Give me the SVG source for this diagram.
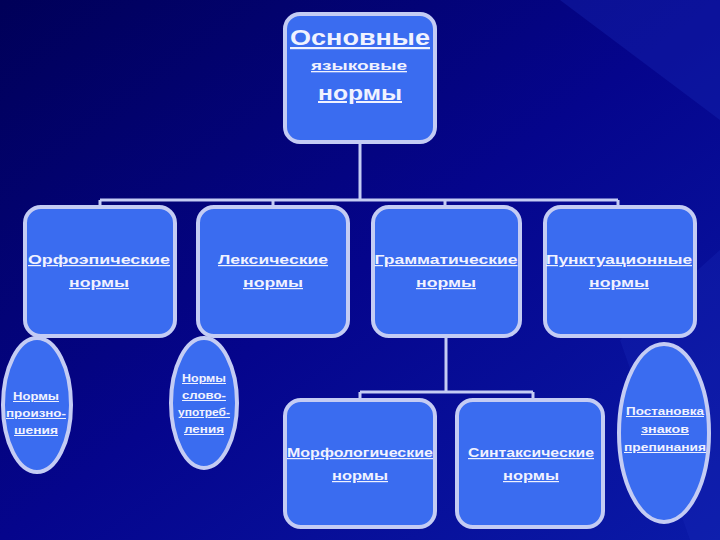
<svg xmlns="http://www.w3.org/2000/svg" width="720" height="540" viewBox="0 0 720 540">
<defs>
<linearGradient id="bg" x1="0" y1="0" x2="1" y2="1">
<stop offset="0" stop-color="#000058"/>
<stop offset="0.5" stop-color="#05058c"/>
<stop offset="1" stop-color="#0a1aa8"/>
</linearGradient>
<style>
.box{fill:#3a6cf0;stroke:#c4ccf4;stroke-width:4}
.ln{stroke:#c4ccf4;stroke-width:3;fill:none}
.t{font-family:"Liberation Sans",Arial,sans-serif;font-weight:bold;fill:#f0f2ff;text-anchor:middle;text-decoration:underline}
.s{font-size:12px}
.e{font-size:10px}
</style>
</defs>
<rect width="720" height="540" fill="url(#bg)"/>
<path d="M560 0 L720 0 L720 120 Z" fill="#1a2ab8" opacity="0.35"/>
<path d="M620 340 L720 250 L720 540 L690 540 Z" fill="#1a2ab8" opacity="0.3"/>
<g id="connectors">
<path class="ln" d="M360 142 V200 M100 200 H618 M100 200 V208 M273 200 V208 M445 200 V208 M618 200 V208"/>
<path class="ln" d="M446 336 V392 M360 392 H533 M360 392 V401 M533 392 V401"/>
</g>
<g id="root">
<rect class="box" x="285" y="14" width="150" height="128" rx="15"/>
<text class="t" x="360" y="45" font-size="22" textLength="140" lengthAdjust="spacingAndGlyphs">Основные</text>
<text class="t" x="359" y="70" font-size="13" textLength="96" lengthAdjust="spacingAndGlyphs">языковые</text>
<text class="t" x="360" y="100" font-size="20" textLength="84" lengthAdjust="spacingAndGlyphs">нормы</text>
</g>
<g id="orfo">
<rect class="box" x="25" y="207" width="150" height="129" rx="16"/>
<text class="t s" x="99" y="264" textLength="142" lengthAdjust="spacingAndGlyphs">Орфоэпические</text>
<text class="t s" x="99" y="287" textLength="60" lengthAdjust="spacingAndGlyphs">нормы</text>
</g>
<g id="leks">
<rect class="box" x="198" y="207" width="150" height="129" rx="16"/>
<text class="t s" x="273" y="264" textLength="110" lengthAdjust="spacingAndGlyphs">Лексические</text>
<text class="t s" x="273" y="287" textLength="60" lengthAdjust="spacingAndGlyphs">нормы</text>
</g>
<g id="gramm">
<rect class="box" x="373" y="207" width="147" height="129" rx="16"/>
<text class="t s" x="446" y="264" textLength="143" lengthAdjust="spacingAndGlyphs">Грамматические</text>
<text class="t s" x="446" y="287" textLength="60" lengthAdjust="spacingAndGlyphs">нормы</text>
</g>
<g id="punkt">
<rect class="box" x="545" y="207" width="150" height="129" rx="16"/>
<text class="t s" x="619" y="264" textLength="146" lengthAdjust="spacingAndGlyphs">Пунктуационные</text>
<text class="t s" x="619" y="287" textLength="60" lengthAdjust="spacingAndGlyphs">нормы</text>
</g>
<g id="proiz">
<ellipse class="box" cx="37" cy="405" rx="34" ry="67"/>
<text class="t e" x="36" y="400" textLength="46" lengthAdjust="spacingAndGlyphs">Нормы</text>
<text class="t e" x="36" y="417" textLength="60" lengthAdjust="spacingAndGlyphs">произно-</text>
<text class="t e" x="36" y="434" textLength="44" lengthAdjust="spacingAndGlyphs">шения</text>
</g>
<g id="slovo">
<ellipse class="box" cx="204" cy="403" rx="33" ry="65"/>
<text class="t e" x="204" y="382" textLength="44" lengthAdjust="spacingAndGlyphs">Нормы</text>
<text class="t e" x="204" y="399" textLength="44" lengthAdjust="spacingAndGlyphs">слово-</text>
<text class="t e" x="204" y="416" textLength="52" lengthAdjust="spacingAndGlyphs">употреб-</text>
<text class="t e" x="204" y="433" textLength="40" lengthAdjust="spacingAndGlyphs">ления</text>
</g>
<g id="morf">
<rect class="box" x="285" y="400" width="150" height="127" rx="16"/>
<text class="t s" x="360" y="457" textLength="146" lengthAdjust="spacingAndGlyphs">Морфологические</text>
<text class="t s" x="360" y="480" textLength="56" lengthAdjust="spacingAndGlyphs">нормы</text>
</g>
<g id="sint">
<rect class="box" x="457" y="400" width="146" height="127" rx="16"/>
<text class="t s" x="531" y="457" textLength="126" lengthAdjust="spacingAndGlyphs">Синтаксические</text>
<text class="t s" x="531" y="480" textLength="56" lengthAdjust="spacingAndGlyphs">нормы</text>
</g>
<g id="znaki">
<ellipse class="box" cx="664" cy="433" rx="45" ry="89"/>
<text class="t e" x="665" y="415" textLength="78" lengthAdjust="spacingAndGlyphs">Постановка</text>
<text class="t e" x="665" y="433" textLength="48" lengthAdjust="spacingAndGlyphs">знаков</text>
<text class="t e" x="665" y="451" textLength="82" lengthAdjust="spacingAndGlyphs">препинания</text>
</g>
</svg>
